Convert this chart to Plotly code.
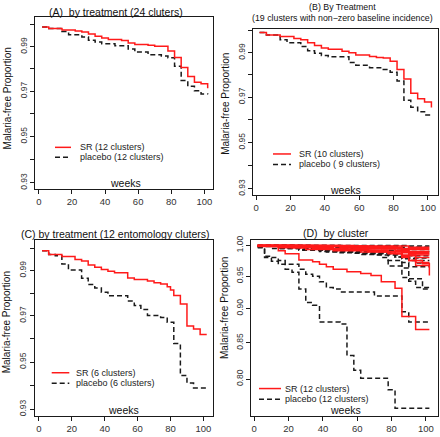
import numpy as np
import plotly.graph_objects as go

# ---------------- DATA ----------------
# Panel A: by treatment (24 clusters)
a_sr_weeks = [2, 6, 14, 22, 26, 30, 34, 38, 42, 50, 54, 58, 66, 70, 78, 82, 86, 90, 94, 98, 102]
a_sr_vals = [0.9991, 0.9984, 0.9977, 0.9972, 0.9968, 0.9958, 0.9948, 0.9940, 0.9933, 0.9929, 0.9917,
             0.9911, 0.9907, 0.9903, 0.9881, 0.9852, 0.9806, 0.9766, 0.9740, 0.9733, 0.9713]
a_pl_weeks = [2, 6, 14, 18, 26, 30, 34, 38, 46, 54, 58, 66, 74, 78, 82, 86, 90, 94, 98, 102]
a_pl_vals = [0.9991, 0.9984, 0.9970, 0.9955, 0.9945, 0.9930, 0.9922, 0.9914, 0.9905, 0.9890, 0.9876,
             0.9864, 0.9858, 0.9850, 0.9812, 0.9748, 0.9722, 0.9702, 0.9688, 0.9686]

# Panel B: 19 clusters with non-zero baseline incidence
b_sr_weeks = [2, 6, 14, 22, 26, 30, 34, 38, 42, 50, 54, 58, 66, 70, 74, 78, 82, 86, 90, 94, 98, 102]
b_sr_vals = [0.9992, 0.9981, 0.9974, 0.9965, 0.9959, 0.9945, 0.9933, 0.9922, 0.9916, 0.9907, 0.9900,
             0.9890, 0.9883, 0.9878, 0.9876, 0.9861, 0.9824, 0.9781, 0.9718, 0.9693, 0.9679, 0.9654]
b_pl_weeks = [2, 6, 14, 18, 26, 30, 34, 38, 42, 54, 58, 66, 74, 78, 82, 86, 90, 94, 98, 102]
b_pl_vals = [0.9992, 0.9981, 0.9959, 0.9945, 0.9928, 0.9909, 0.9898, 0.9888, 0.9882, 0.9856, 0.9843,
             0.9832, 0.9824, 0.9812, 0.9772, 0.9686, 0.9655, 0.9635, 0.9621, 0.9620]

# Panel C: 12 entomology clusters
c_sr_weeks = [2, 6, 14, 22, 26, 30, 34, 38, 42, 46, 54, 58, 66, 70, 74, 78, 80, 82, 86, 90, 94, 98, 102]
c_sr_vals = [0.9989, 0.9972, 0.9963, 0.9950, 0.9943, 0.9925, 0.9915, 0.9905, 0.9897, 0.9890, 0.9867,
             0.9860, 0.9853, 0.9846, 0.9840, 0.9828, 0.9814, 0.9789, 0.9752, 0.9656, 0.9643, 0.9619, 0.9619]
c_pl_weeks = [2, 6, 10, 14, 18, 26, 30, 34, 38, 42, 54, 58, 62, 66, 74, 78, 82, 86, 90, 94, 102]
c_pl_vals = [0.9989, 0.9972, 0.9966, 0.9929, 0.9902, 0.9866, 0.9838, 0.9822, 0.9804, 0.9788, 0.9765,
             0.9745, 0.9728, 0.9702, 0.9693, 0.9672, 0.9580, 0.9443, 0.9411, 0.9390, 0.9390]

# Panel D: by cluster (12 SR clusters, 12 placebo clusters)
d_sr_weeks = [
    [2, 14, 18, 26, 34, 38, 42, 46, 54, 62, 68, 74, 82, 86, 94, 102],
    [2, 10, 22, 38, 54, 70, 82, 86, 90, 98, 102],
    [2, 18, 34, 50, 66, 78, 86, 90, 94, 102],
    [2, 26, 46, 62, 78, 86, 94, 102],
    [2, 30, 58, 82, 90, 102],
    [2, 22, 50, 74, 86, 102],
    [2, 42, 70, 86, 102],
    [2, 34, 66, 86, 102],
    [2, 50, 82, 102],
    [2, 14, 30, 46, 62, 78, 86, 94, 102],
    [2, 58, 90, 102],
    [2, 18, 38, 58, 74, 90, 102],
]
d_sr_vals = [
    [0.998, 0.991, 0.986, 0.976, 0.973, 0.969, 0.965, 0.961, 0.957, 0.954, 0.951, 0.941, 0.931, 0.888, 0.869, 0.869],
    [1.000, 0.998, 0.996, 0.994, 0.992, 0.990, 0.986, 0.982, 0.975, 0.970, 0.951],
    [0.999, 0.997, 0.995, 0.993, 0.990, 0.987, 0.980, 0.975, 0.967, 0.967],
    [1.000, 0.997, 0.994, 0.992, 0.989, 0.984, 0.972, 0.972],
    [1.000, 0.998, 0.995, 0.991, 0.984, 0.984],
    [1.000, 0.999, 0.997, 0.994, 0.988, 0.988],
    [1.000, 0.998, 0.996, 0.990, 0.990],
    [1.000, 0.999, 0.997, 0.993, 0.993],
    [1.000, 0.998, 0.995, 0.995],
    [0.999, 0.996, 0.993, 0.991, 0.989, 0.986, 0.983, 0.980, 0.980],
    [1.000, 0.999, 0.997, 0.997],
    [0.999, 0.997, 0.994, 0.992, 0.990, 0.986, 0.986],
]
d_pl_weeks = [
    [2, 6, 10, 14, 18, 22, 26, 30, 34, 38, 50, 54, 58, 62, 78, 82, 102],
    [2, 6, 14, 18, 26, 30, 34, 38, 42, 46, 50, 70, 86, 90, 102],
    [2, 14, 26, 38, 50, 62, 74, 78, 86, 90, 98, 102],
    [2, 18, 34, 54, 70, 78, 86, 90, 94, 102],
    [2, 22, 46, 66, 82, 86, 90, 102],
    [2, 30, 58, 78, 86, 94, 102],
    [2, 10, 26, 42, 62, 82, 90, 102],
    [2, 34, 66, 86, 102],
    [2, 90, 102],
    [2, 50, 86, 102],
    [2, 26, 54, 78, 90, 102],
    [2, 14, 38, 58, 78, 86, 102],
]
d_pl_vals = [
    [0.996, 0.982, 0.974, 0.969, 0.961, 0.956, 0.930, 0.909, 0.905, 0.880, 0.877, 0.832, 0.812, 0.801, 0.786, 0.762, 0.762],
    [0.997, 0.980, 0.975, 0.969, 0.961, 0.953, 0.950, 0.941, 0.932, 0.930, 0.925, 0.919, 0.895, 0.880, 0.880],
    [0.999, 0.996, 0.993, 0.991, 0.988, 0.985, 0.980, 0.966, 0.948, 0.946, 0.930, 0.928],
    [0.999, 0.996, 0.993, 0.989, 0.984, 0.975, 0.963, 0.942, 0.932, 0.930],
    [1.000, 0.997, 0.993, 0.988, 0.981, 0.972, 0.965, 0.965],
    [0.999, 0.995, 0.990, 0.985, 0.978, 0.971, 0.971],
    [0.998, 0.995, 0.992, 0.989, 0.986, 0.981, 0.975, 0.975],
    [1.000, 0.996, 0.991, 0.983, 0.983],
    [1.000, 0.999, 0.999],
    [1.000, 0.999, 0.997, 0.997],
    [1.000, 0.998, 0.995, 0.992, 0.990, 0.990],
    [0.999, 0.995, 0.990, 0.987, 0.984, 0.979, 0.979],
]

x_ticks = [0, 20, 40, 60, 80, 100]
y_ticks_small = [0.93, 0.94, 0.95, 0.96, 0.97, 0.98, 0.99, 1.00]
y_ticklabels_small = ["0.93", "", "0.95", "", "0.97", "", "0.99", ""]
y_ticks_d = [0.80, 0.85, 0.90, 0.95, 1.00]
y_ticklabels_d = ["0.80", "0.85", "0.90", "0.95", "1.00"]

titles = ["(A)  by treatment (24 cluters)",
          "(B) By Treatment<br>(19 clusters with non\u2212zero baseline incidence)",
          "(C) by treatment (12 entomology cluters)",
          "(D)  by cluster"]
legend_sr = ["SR (12 clusters)", "SR (10 clusters)", "SR (6 clusters)", "SR (12 clusters)"]
legend_pl = ["placebo (12 clusters)", "placebo ( 9 clusters)", "placebo (6 clusters)", "placebo (12 clusters)"]
x_label = "weeks"
y_label = "Malaria-free Proportion"

# ---------------- LAYOUT GEOMETRY (pixels) ----------------
W, H = 440, 437
FONT = "Liberation Sans, Arial, sans-serif"
RED = "#ff1a1a"
BLK = "#1a1a1a"
DASH = "5px,3px"
LW = 1.5


def fx(p):
    return p / W


def fy(p):
    return 1 - p / H


panels = [
    dict(box=(35, 13.3, 213.3, 187.2), xr=(-2.3, 105.4), yr=(0.92734, 1.003587),
         yt=y_ticks_small, ytl=y_ticklabels_small,
         title=(116, 8.5, 10.5), weeks=(125.5, 181.5), ylab=(7.5, 96),
         leg=(55, 71, 78, 145, 155)),
    dict(box=(253, 25, 438.3, 193.3), xr=(-1.8, 106.0), yr=(0.92734, 1.000987),
         yt=y_ticks_small, ytl=y_ticklabels_small,
         title=(342, 9, 8.8), weeks=(345, 188.3), ylab=(226, 101),
         leg=(273, 291, 297, 151.7, 162.3)),
    dict(box=(34.7, 238.7, 213.3, 416.7), xr=(-2.5, 106.0), yr=(0.92723, 1.003742),
         yt=y_ticks_small, ytl=y_ticklabels_small,
         title=(115, 233, 10.5), weeks=(123.7, 410.5), ylab=(6, 322),
         leg=(51.7, 69.3, 74, 373, 383.7)),
    dict(box=(251, 238.7, 438.3, 416.7), xr=(-1.9, 107.2), yr=(0.7523, 1.0091),
         yt=y_ticks_d, ytl=y_ticklabels_d,
         title=(335.5, 231.5, 10.5), weeks=(345, 410.5), ylab=(224.5, 308),
         leg=(259, 281, 283.3, 389, 399.7)),
]

fig = go.Figure()

series = [
    ([(a_pl_weeks, a_pl_vals)], [(a_sr_weeks, a_sr_vals)]),
    ([(b_pl_weeks, b_pl_vals)], [(b_sr_weeks, b_sr_vals)]),
    ([(c_pl_weeks, c_pl_vals)], [(c_sr_weeks, c_sr_vals)]),
    (list(zip(d_pl_weeks, d_pl_vals)), list(zip(d_sr_weeks, d_sr_vals))),
]

annotations = []
shapes = []

for i, (p, (pl_list, sr_list)) in enumerate(zip(panels, series)):
    n = i + 1
    xa = "x" if n == 1 else f"x{n}"
    ya = "y" if n == 1 else f"y{n}"
    for wk, vv in pl_list:
        fig.add_trace(go.Scatter(x=wk, y=vv, mode="lines", line_shape="hv",
                                 line=dict(color=BLK, width=LW, dash=DASH),
                                 xaxis=xa, yaxis=ya, showlegend=False, hoverinfo="skip"))
    for wk, vv in sr_list:
        fig.add_trace(go.Scatter(x=wk, y=vv, mode="lines", line_shape="hv",
                                 line=dict(color=RED, width=LW),
                                 xaxis=xa, yaxis=ya, showlegend=False, hoverinfo="skip"))

    x0, y0, x1, y1 = p["box"]
    axis_common = dict(showline=True, mirror=True, linecolor=BLK, linewidth=1,
                       ticks="outside", ticklen=4, tickcolor=BLK, tickwidth=1,
                       showgrid=False, zeroline=False,
                       tickfont=dict(family=FONT, size=9.5, color="#333"))
    xkey = "xaxis" if n == 1 else f"xaxis{n}"
    ykey = "yaxis" if n == 1 else f"yaxis{n}"
    fig.update_layout(**{
        xkey: dict(domain=[fx(x0), fx(x1)], range=list(p["xr"]), anchor=ya,
                   tickvals=x_ticks, ticktext=[str(t) for t in x_ticks], **axis_common),
        ykey: dict(domain=[fy(y1), fy(y0)], type="log",
                   range=[np.log10(p["yr"][0]), np.log10(p["yr"][1])], anchor=xa,
                   tickvals=p["yt"], ticktext=p["ytl"], tickangle=-90,
                   **{**axis_common, "tickfont": dict(family=FONT, size=8.5, color="#333")}),
    })

    tx, ty, ts = p["title"]
    annotations.append(dict(text=titles[i], x=fx(tx), y=fy(ty), xref="paper", yref="paper",
                            showarrow=False, xanchor="center", yanchor="middle",
                            font=dict(family=FONT, size=ts, color="#111")))
    wx, wy = p["weeks"]
    annotations.append(dict(text=x_label, x=fx(wx), y=fy(wy), xref="paper", yref="paper",
                            showarrow=False, xanchor="center", yanchor="middle",
                            font=dict(family=FONT, size=10.5, color="#111")))
    lx, ly = p["ylab"]
    annotations.append(dict(text=y_label, x=fx(lx), y=fy(ly), xref="paper", yref="paper",
                            showarrow=False, xanchor="center", yanchor="middle", textangle=-90,
                            font=dict(family=FONT, size=10, color="#111")))
    l0, l1, lt, lys, lyp = p["leg"]
    shapes.append(dict(type="line", xref="paper", yref="paper", x0=fx(l0), x1=fx(l1),
                       y0=fy(lys), y1=fy(lys), line=dict(color=RED, width=LW)))
    shapes.append(dict(type="line", xref="paper", yref="paper", x0=fx(l0), x1=fx(l1),
                       y0=fy(lyp), y1=fy(lyp), line=dict(color=BLK, width=LW, dash=DASH)))
    annotations.append(dict(text=legend_sr[i], x=fx(lt), y=fy(lys), xref="paper", yref="paper",
                            showarrow=False, xanchor="left", yanchor="middle",
                            font=dict(family=FONT, size=9, color="#222")))
    annotations.append(dict(text=legend_pl[i], x=fx(lt), y=fy(lyp), xref="paper", yref="paper",
                            showarrow=False, xanchor="left", yanchor="middle",
                            font=dict(family=FONT, size=9, color="#222")))

fig.update_layout(width=W, height=H, margin=dict(l=0, r=0, t=0, b=0),
                  paper_bgcolor="white", plot_bgcolor="white",
                  annotations=annotations, shapes=shapes, showlegend=False)

fig.write_html("out.html", config={"displayModeBar": False},
               post_script="document.body.style.margin='0';document.body.style.padding='0';"
                           "document.documentElement.style.overflow='hidden';")
